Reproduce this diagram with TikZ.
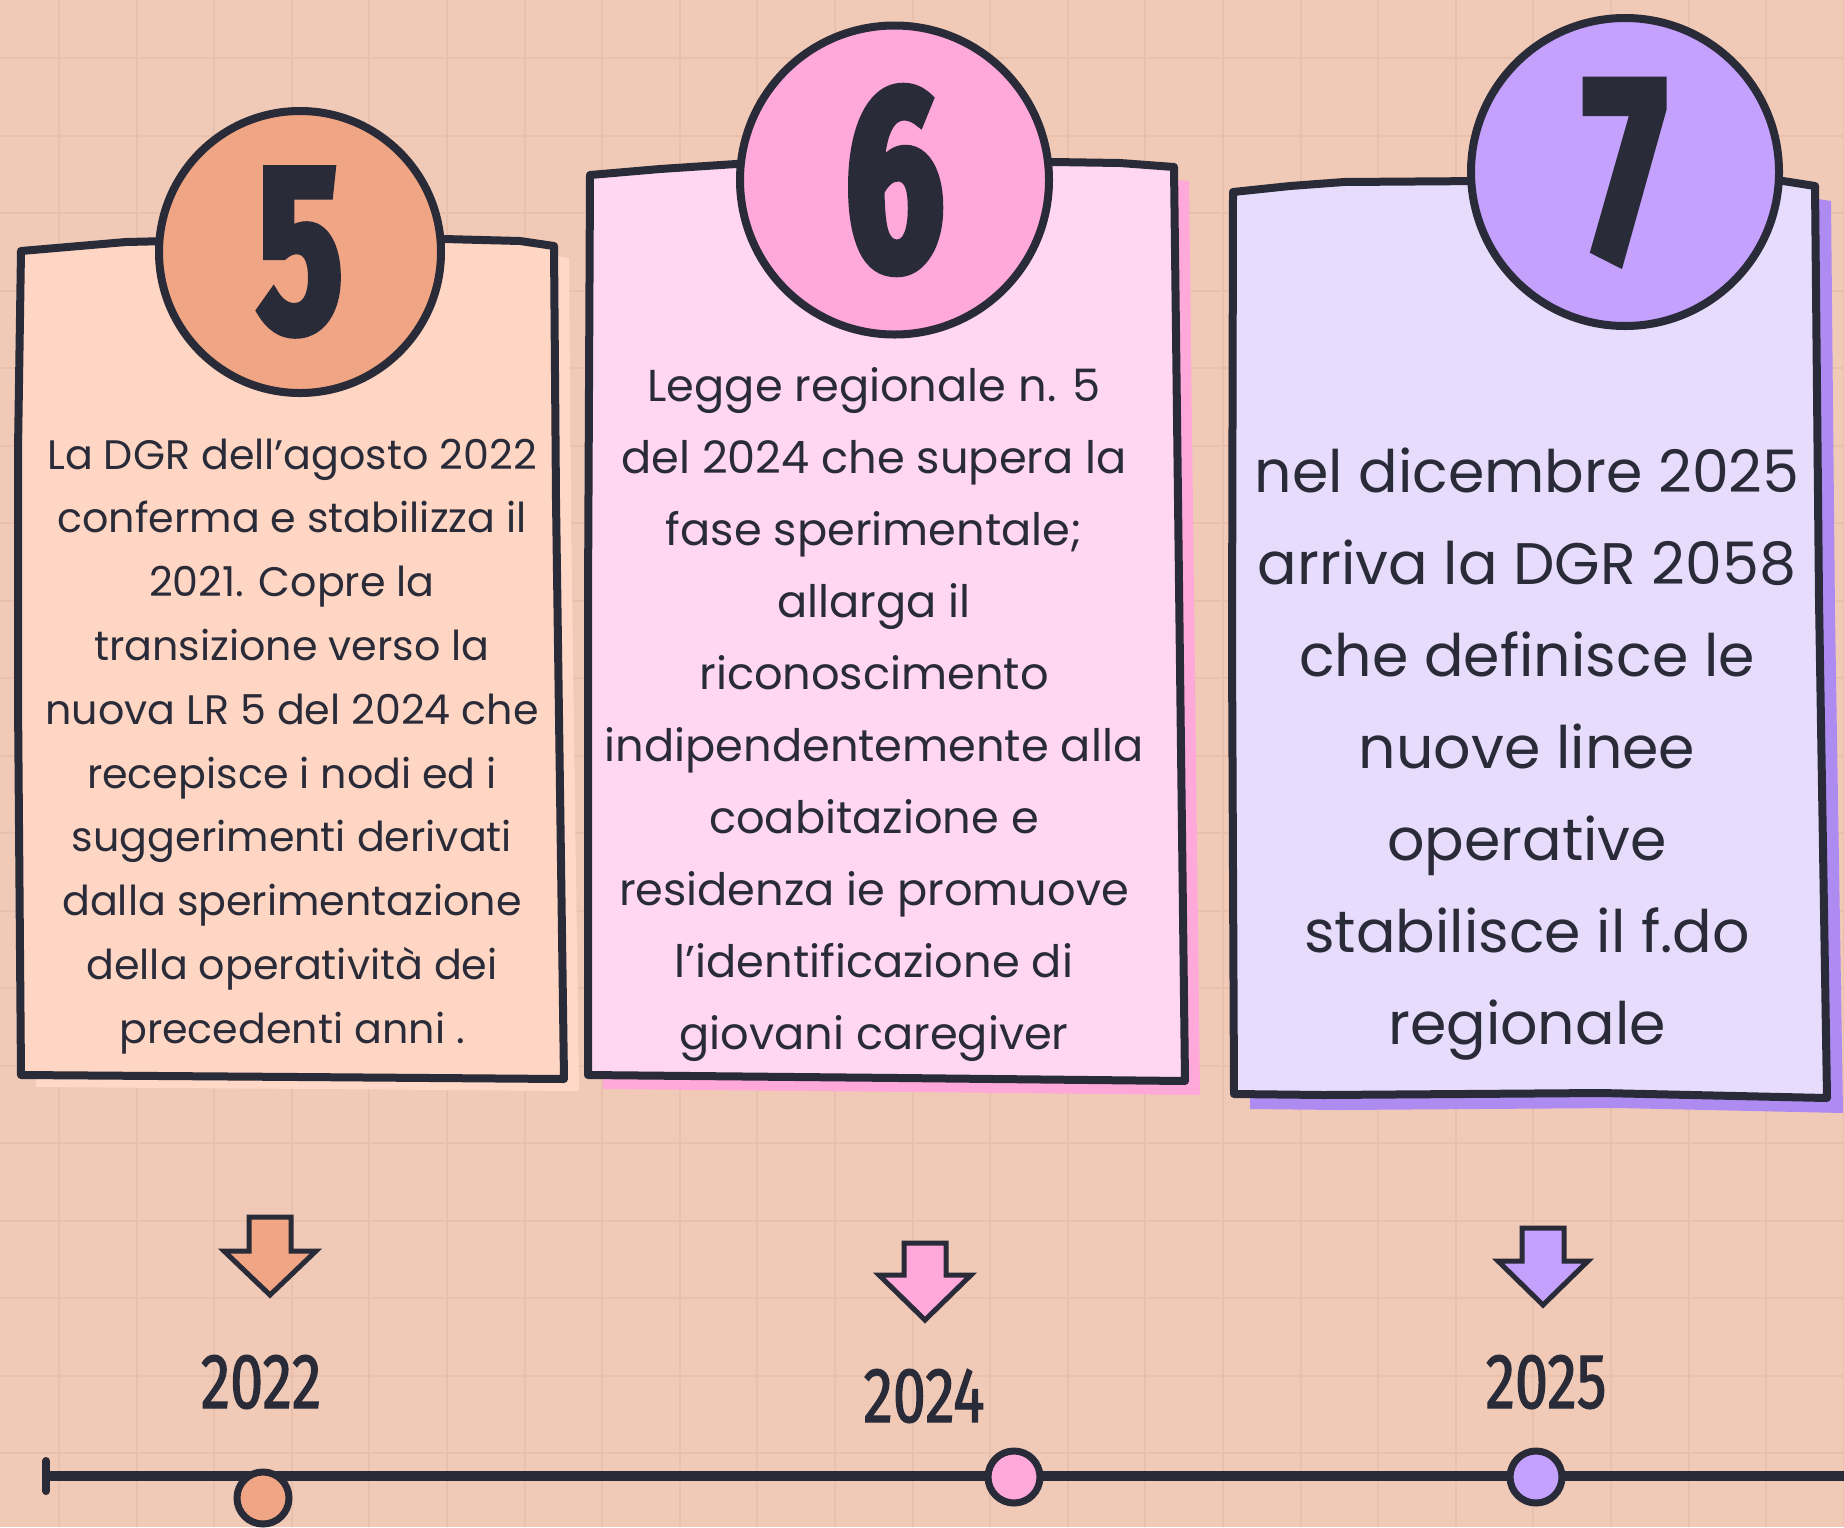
\documentclass[tikz,border=0pt]{standalone}
\usepackage{fontspec}
\setmainfont{Poppins}
\newfontfamily\numfont{Fira Sans}[FakeStretch=0.66, BoldFeatures={FakeBold=3}]
\newfontfamily\yearfont{Fira Sans}[FakeStretch=0.76, FakeBold=1.5]
\definecolor{bg}{HTML}{F0CAB7}
\definecolor{gridc}{HTML}{E9C0AC}
\definecolor{ink}{HTML}{2A2B38}
\definecolor{peachCard}{HTML}{FFD5C3}
\definecolor{peachShadow}{HTML}{FFD8C7}
\definecolor{peachDark}{HTML}{F0A585}
\definecolor{pinkCard}{HTML}{FFD7F0}
\definecolor{pinkDark}{HTML}{FFA8DA}
\definecolor{lavCard}{HTML}{E8DCFC}
\definecolor{lavShadow}{HTML}{AE8BF0}
\definecolor{lavCircle}{HTML}{C3A1FD}
\newcommand\cardApath{(21,251) -- (126,242) -- (300,238) -- (444,239) -- (520,241) -- (554,246) -- (556,500) -- (564,1079) -- (300,1077) -- (21,1075) -- (18,700) -- (18,450) -- cycle}
\newcommand\cardBpath{(590,175) -- (660,169) -- (736,164) -- (894,160) -- (1053,162) -- (1120,163) -- (1174,167) -- (1178,500) -- (1185,1081) -- (900,1078) -- (588,1075) -- (588,600) -- cycle}
\newcommand\cardCpath{(1233,192) -- (1290,186) -- (1344,182) -- (1625,180) -- (1783,181) -- (1815,186) -- (1819,600) -- (1827,1098) -- (1601,1093) -- (1324,1095) -- (1234,1094) -- (1232,650) -- cycle}
\tikzset{
  cardline/.style={draw=ink, line width=8pt, line join=round},
  numcircle/.style={circle, draw=ink, line width=8pt, inner sep=0pt, text=ink},
  bodytext/.style={anchor=base, text=ink, inner sep=0pt},
  downarrow/.style={draw=ink, line width=5pt, line join=miter},
  yeartext/.style={text=ink, inner sep=0pt, font=\yearfont\fontsize{78}{78}\selectfont},
  dot/.style={circle, draw=ink, line width=7pt, inner sep=0pt, minimum size=52pt},
  gridline/.style={draw=gridc, line width=2pt}
}
\begin{document}
\begin{tikzpicture}[x=1pt,y=-1pt]
\useasboundingbox (0,0) rectangle (1844,1527);
\fill[bg] (0,0) rectangle (1844,1527);
% grid
\foreach \i in {0,...,23} { \draw[gridline] ({59+77.6*\i},0) -- ({59+77.6*\i},1527); }
\foreach \j in {0,...,19} { \draw[gridline] (0,{58+77.5*\j}) -- (1844,{58+77.5*\j}); }
% shadows
\begin{scope}[shift={(15,12)}] \fill[peachShadow] \cardApath; \end{scope}
\begin{scope}[shift={(15,14)}] \fill[pinkDark] \cardBpath; \end{scope}
\begin{scope}[shift={(16,15)}] \fill[lavShadow] \cardCpath; \end{scope}
% cards
\draw[cardline, fill=peachCard] \cardApath;
\draw[cardline, fill=pinkCard] \cardBpath;
\draw[cardline, fill=lavCard] \cardCpath;
% circles with numbers
\node[numcircle, fill=peachDark, minimum size=282pt] (c5) at (300,252) {\numfont\bfseries\fontsize{240}{240}\selectfont 5};
\node[numcircle, fill=pinkDark, minimum size=309pt] (c6) at (894.5,180) {\numfont\bfseries\fontsize{264}{264}\selectfont 6};
\node[numcircle, fill=lavCircle, minimum size=308pt] (c7) at (1625,172) {\numfont\bfseries\fontsize{264}{264}\selectfont 7};
% card texts
\foreach \t [count=\i from 0] in {{La DGR dell’agosto 2022},{conferma e stabilizza il},{2021. Copre la},{transizione verso la},{nuova LR 5 del 2024 che},{recepisce i nodi ed i},{suggerimenti derivati},{dalla sperimentazione},{della operatività dei},{precedenti anni .}}
  { \node[bodytext, font=\fontsize{41.2}{48}\selectfont] (ta\i) at (292,{469+63.8*\i}) {\t}; }
\foreach \t [count=\i from 0] in {{Legge regionale n. 5},{del 2024 che supera la},{fase sperimentale;},{allarga il},{riconoscimento},{indipendentemente alla},{coabitazione e},{residenza ie promuove},{l’identificazione di},{giovani caregiver}}
  { \node[bodytext, font=\fontsize{44.7}{52}\selectfont] (tb\i) at (874,{401+72*\i}) {\t}; }
\foreach \t [count=\i from 0] in {{nel dicembre 2025},{arriva la DGR 2058},{che definisce le},{nuove linee},{operative},{stabilisce il f.do},{regionale}}
  { \node[bodytext, font=\fontsize{58.6}{66}\selectfont] (tc\i) at (1527,{492+92*\i}) {\t}; }
% arrows
\draw[downarrow, fill=peachDark] (249,1217) -- (291,1217) -- (291,1251) -- (316,1251) -- (270,1295) -- (224,1251) -- (249,1251) -- cycle;
\draw[downarrow, fill=pinkDark] (904,1243) -- (946,1243) -- (946,1275) -- (971,1275) -- (925,1320) -- (879,1275) -- (904,1275) -- cycle;
\draw[downarrow, fill=lavCircle] (1522,1228) -- (1564,1228) -- (1564,1261) -- (1588,1261) -- (1543,1305) -- (1498,1261) -- (1522,1261) -- cycle;
% years
\node[yeartext] (y2022) at (261,1382) {2022};
\node[yeartext] (y2024) at (924,1396) {2024};
\node[yeartext] (y2025) at (1546,1382) {2025};
% timeline
\coordinate (tlstart) at (46,1476);
\coordinate (tlend) at (1860,1476);
\draw[ink, line width=10pt] (tlstart) -- (tlend);
\draw[ink, line width=8pt, line cap=round] ([yshift=-15pt]tlstart) -- ([yshift=15pt]tlstart);
\node[dot, fill=peachDark] (d2022) at (263,1498) {};
\node[dot, fill=pinkDark] (d2024) at (1014,1477) {};
\node[dot, fill=lavCircle] (d2025) at (1536,1477) {};
\end{tikzpicture}
\end{document}
